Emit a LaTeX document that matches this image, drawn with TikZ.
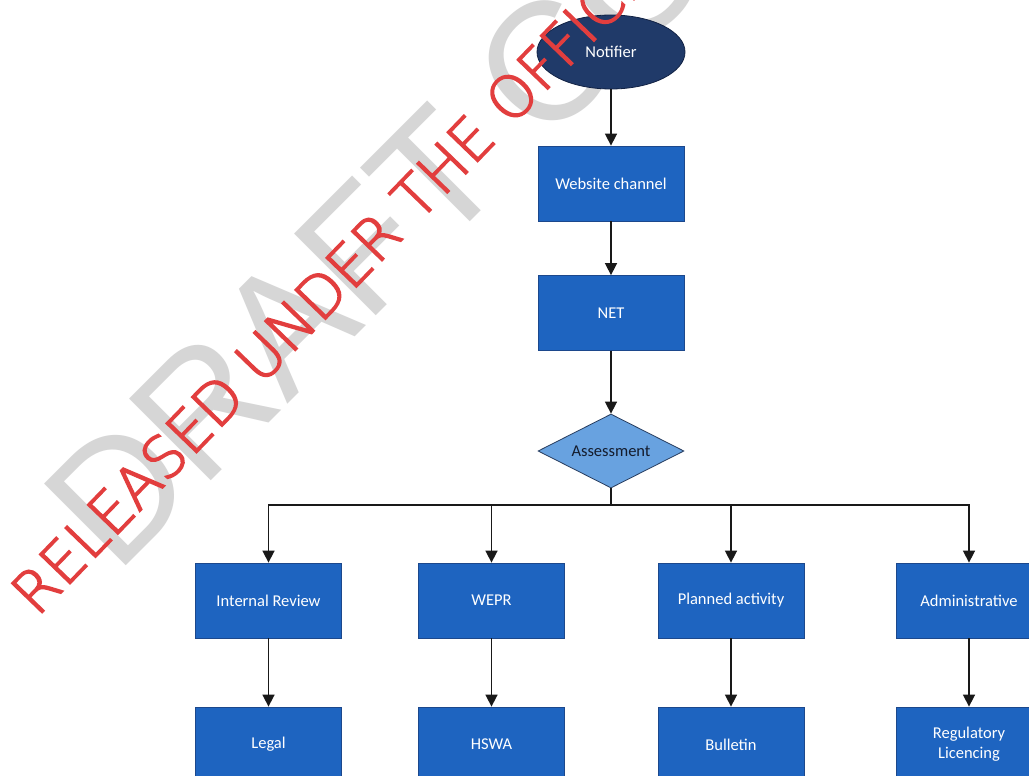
\documentclass[tikz,border=0pt]{standalone}
\usepackage{fontspec}
\setmainfont{Carlito}
\newfontfamily\draftfont{Liberation Sans}
% light lettering for the stamp; the stroke width thickens the thin strokes
\IfFontExistsTF{DejaVuSans-ExtraLight.ttf}
  {\newfontfamily\stampfont{DejaVuSans-ExtraLight.ttf}\def\stampstroke{1.5 w 2 Tr}\def\stampsize{58}}
  {\IfFontExistsTF{Lato-Light.ttf}
    {\newfontfamily\stampfont{Lato-Light.ttf}\def\stampstroke{0.8 w 2 Tr}\def\stampsize{60}}
    {\newfontfamily\stampfont{Liberation Sans}\def\stampstroke{0 Tr}\def\stampsize{58}}}
\usetikzlibrary{shapes.geometric,arrows.meta}

\definecolor{boxblue}{RGB}{30,100,192}
\definecolor{boxedge}{RGB}{28,72,140}
\definecolor{navyfill}{RGB}{32,58,105}
\definecolor{navyedge}{RGB}{18,34,68}
\definecolor{decisionfill}{RGB}{104,162,224}
\definecolor{decisionedge}{RGB}{40,62,96}
\definecolor{linkline}{RGB}{25,25,25}
\definecolor{stampred}{RGB}{226,62,62}
\definecolor{draftgrey}{RGB}{214,214,214}

\makeatletter
\newcommand\stamptext[1]{\pgfsys@invoke{\stampstroke}#1\pgfsys@invoke{0 Tr}}
\makeatother

\tikzset{
  procbox/.style={rectangle, draw=boxedge, line width=0.8pt, fill=boxblue,
    minimum width=146pt, minimum height=75pt, inner sep=2pt,
    text=white, font=\fontsize{16.5}{20}\selectfont, align=center},
  startnode/.style={ellipse, draw=navyedge, line width=0.8pt, fill=navyfill,
    minimum width=148pt, minimum height=74pt, inner sep=0pt,
    text=white, font=\fontsize{16.5}{20}\selectfont},
  decision/.style={diamond, draw=decisionedge, line width=0.8pt, fill=decisionfill,
    minimum width=146pt, minimum height=74pt, inner sep=1pt, shape aspect=2,
    text={rgb,255:red,20;green,28;blue,45}, font=\fontsize{16.5}{20}\selectfont},
  link/.style={draw=linkline, line width=1.6pt},
  flow/.style={link, -{Triangle[width=12pt,length=12pt]}},
}

\begin{document}
\begin{tikzpicture}[x=1pt,y=-1pt]
  \useasboundingbox (0,0) rectangle (1029,776);
  \clip (0,0) rectangle (1029,776);
  \fill[white] (0,0) rectangle (1029,776);

  % background watermark
  \node[rotate=45, anchor=base west, inner sep=0pt, text=draftgrey,
        font=\draftfont\fontsize{168}{168}\selectfont] (draftmark) at (116,576) {DRAFT COPY};

  % main chain
  \node[startnode] (notifier) at (611,52) {Notifier};
  \node[procbox] (web) at (611,183.5) {Website channel};
  \node[procbox] (net) at (611,313) {NET};
  \node[decision] (assess) at (611,451) {Assessment};

  \draw[flow] (notifier) -- (web);
  \draw[flow] (web) -- (net);
  \draw[flow] (net) -- (assess);

  % first tier
  \node[procbox] (review) at (268.5,600.5) {Internal Review};
  \node[procbox] (wepr)   at (491.5,600.5) {WEPR};
  \node[procbox] (planned) at (731,600.5) {Planned activity};
  \node[procbox] (admin)  at (969,600.5) {Administrative};

  % second tier
  \node[procbox] (legal)    at (268.5,744.5) {Legal};
  \node[procbox] (hswa)     at (491.5,744.5) {HSWA};
  \node[procbox] (bulletin) at (731,744.5) {Bulletin};
  \node[procbox] (reglic)   at (969,744.5) {Regulatory\\Licencing};

  % branching bus
  \coordinate (split) at (611,505);
  \draw[link] (assess.south) -- (split);
  \draw[flow] (split) -| (review.north);
  \draw[flow] (split) -| (wepr.north);
  \draw[flow] (split) -| (planned.north);
  \draw[flow] (split) -| (admin.north);

  \draw[flow] (review) -- (legal);
  \draw[flow] (wepr) -- (hswa);
  \draw[flow] (planned) -- (bulletin);
  \draw[flow] (admin) -- (reglic);

  % release stamp on top
  \node[rotate=46, anchor=base west, inner sep=0pt, text=stampred,
        font=\stampfont\fontsize{\stampsize}{\stampsize}\selectfont] (stamp) at (37,618)
        {\stamptext{RELEASED UNDER THE OFFICIAL INFORMATION ACT}};
\end{tikzpicture}
\end{document}
